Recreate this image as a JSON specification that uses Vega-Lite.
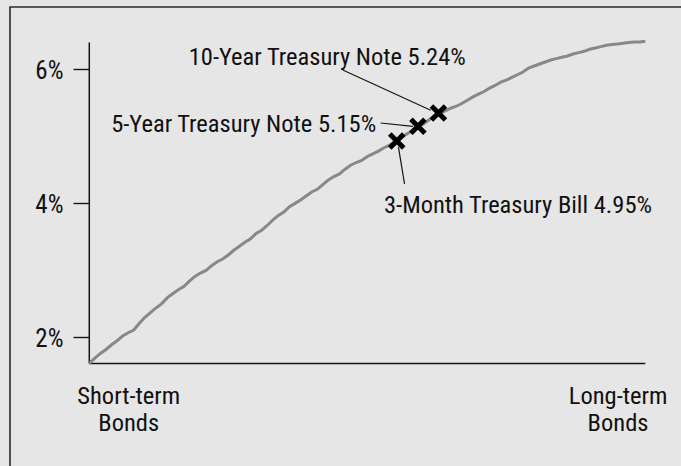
{
  "$schema": "https://vega.github.io/schema/vega-lite/v6.json",
  "width": 680,
  "height": 465,
  "autosize": "none",
  "padding": {"left": 10, "top": 7, "right": 0, "bottom": 0},
  "background": "#e6e6e6",
  "config": {
    "view": {"stroke": "#2a2a2a", "strokeWidth": 1.6, "fill": "#e6e6e6"},
    "font": "'Roboto Condensed', 'DejaVu Sans Condensed', Roboto, sans-serif",
    "text": {"font": "'Roboto Condensed', 'DejaVu Sans Condensed', Roboto, sans-serif", "fontSize": 24.5, "color": "#111111"}
  },
  "datasets": {
    "curve": [
      {"term": 0, "rate": 1.60}, {"term": 1, "rate": 1.68}, {"term": 2, "rate": 1.75}, {"term": 3, "rate": 1.81},
      {"term": 4, "rate": 1.88}, {"term": 5, "rate": 1.94}, {"term": 6, "rate": 2.01}, {"term": 7, "rate": 2.06},
      {"term": 8, "rate": 2.10}, {"term": 9, "rate": 2.20}, {"term": 10, "rate": 2.29}, {"term": 11, "rate": 2.36},
      {"term": 12, "rate": 2.43}, {"term": 13, "rate": 2.49}, {"term": 14, "rate": 2.58}, {"term": 15, "rate": 2.64},
      {"term": 16, "rate": 2.70}, {"term": 17, "rate": 2.75}, {"term": 18, "rate": 2.83}, {"term": 19, "rate": 2.90},
      {"term": 20, "rate": 2.95}, {"term": 21, "rate": 2.99}, {"term": 22, "rate": 3.06}, {"term": 23, "rate": 3.12},
      {"term": 24, "rate": 3.16}, {"term": 25, "rate": 3.22}, {"term": 26, "rate": 3.29}, {"term": 27, "rate": 3.35},
      {"term": 28, "rate": 3.41}, {"term": 29, "rate": 3.46}, {"term": 30, "rate": 3.54}, {"term": 31, "rate": 3.59},
      {"term": 32, "rate": 3.66}, {"term": 33, "rate": 3.74}, {"term": 34, "rate": 3.81}, {"term": 35, "rate": 3.86},
      {"term": 36, "rate": 3.94}, {"term": 37, "rate": 3.99}, {"term": 38, "rate": 4.04}, {"term": 39, "rate": 4.10},
      {"term": 40, "rate": 4.16}, {"term": 41, "rate": 4.20}, {"term": 42, "rate": 4.27}, {"term": 43, "rate": 4.34},
      {"term": 44, "rate": 4.39}, {"term": 45, "rate": 4.43}, {"term": 46, "rate": 4.50}, {"term": 47, "rate": 4.56},
      {"term": 48, "rate": 4.60}, {"term": 49, "rate": 4.63}, {"term": 50, "rate": 4.69}, {"term": 51, "rate": 4.73},
      {"term": 52, "rate": 4.77}, {"term": 53, "rate": 4.82}, {"term": 54, "rate": 4.86}, {"term": 55, "rate": 4.91},
      {"term": 56, "rate": 4.96}, {"term": 57, "rate": 5.02}, {"term": 58, "rate": 5.07}, {"term": 59, "rate": 5.12},
      {"term": 60, "rate": 5.17}, {"term": 61, "rate": 5.23}, {"term": 62, "rate": 5.29}, {"term": 63, "rate": 5.33},
      {"term": 64, "rate": 5.37}, {"term": 65, "rate": 5.41}, {"term": 66, "rate": 5.44}, {"term": 67, "rate": 5.48},
      {"term": 68, "rate": 5.53}, {"term": 69, "rate": 5.58}, {"term": 70, "rate": 5.62}, {"term": 71, "rate": 5.66},
      {"term": 72, "rate": 5.71}, {"term": 73, "rate": 5.75}, {"term": 74, "rate": 5.80}, {"term": 75, "rate": 5.83},
      {"term": 76, "rate": 5.87}, {"term": 77, "rate": 5.91}, {"term": 78, "rate": 5.95}, {"term": 79, "rate": 6.01},
      {"term": 80, "rate": 6.04}, {"term": 81, "rate": 6.07}, {"term": 82, "rate": 6.10}, {"term": 83, "rate": 6.13},
      {"term": 84, "rate": 6.15}, {"term": 85, "rate": 6.17}, {"term": 86, "rate": 6.19}, {"term": 87, "rate": 6.22},
      {"term": 88, "rate": 6.24}, {"term": 89, "rate": 6.26}, {"term": 90, "rate": 6.29}, {"term": 91, "rate": 6.31},
      {"term": 92, "rate": 6.33}, {"term": 93, "rate": 6.35}, {"term": 94, "rate": 6.36}, {"term": 95, "rate": 6.37},
      {"term": 96, "rate": 6.38}, {"term": 97, "rate": 6.39}, {"term": 98, "rate": 6.40}, {"term": 99, "rate": 6.40},
      {"term": 100, "rate": 6.41}
    ],
    "securities": [
      {"name": "3M", "term": 55.3, "rate": 4.92, "lx": 55.6, "ly": 4.83, "lx2": 56.7, "ly2": 4.28, "tx": 53.0, "ty": 3.84, "label": "3-Month Treasury Bill 4.95%"},
      {"name": "5Y", "term": 59.1, "rate": 5.14, "lx": 52.4, "ly": 5.19, "lx2": 58.2, "ly2": 5.14, "tx": 51.6, "ty": 5.05, "label": "5-Year Treasury Note 5.15%"},
      {"name": "10Y", "term": 62.8, "rate": 5.34, "lx": 45.6, "ly": 5.98, "lx2": 61.4, "ly2": 5.38, "tx": 42.8, "ty": 6.06, "label": "10-Year Treasury Note 5.24%"}
    ],
    "axes": [
      {"x": 0, "y": 1.6, "x2": 0, "y2": 6.39},
      {"x": 0, "y": 1.6, "x2": 100, "y2": 1.6}
    ],
    "ends": [
      {"term": 7.1, "rate": 0.99, "label": "Short-term\nBonds"},
      {"term": 95.1, "rate": 0.99, "label": "Long-term\nBonds"}
    ]
  },
  "layer": [
    {
      "data": {"name": "axes"},
      "mark": {"type": "rule", "color": "#151515", "strokeWidth": 1.5},
      "encoding": {
        "x": {"field": "x", "type": "quantitative", "scale": {"domain": [-14.26, 108.04], "nice": false, "zero": false}, "axis": null},
        "y": {"field": "y", "type": "quantitative", "scale": {"domain": [-0.019, 6.921], "nice": false, "zero": false},
          "axis": {"values": [2, 4, 6], "offset": -79, "title": null, "grid": false, "domain": false,
            "labelExpr": "datum.value + '%'", "labelFont": "'Roboto Condensed', 'DejaVu Sans Condensed', Roboto, sans-serif", "labelFontSize": 25,
            "labelColor": "#111111", "labelPadding": 10, "labelOffset": 2, "tickSize": 16, "tickColor": "#151515", "tickWidth": 1.4}},
        "x2": {"field": "x2"},
        "y2": {"field": "y2"}
      }
    },
    {
      "data": {"name": "curve"},
      "mark": {"type": "line", "color": "#888888", "strokeWidth": 3},
      "encoding": {
        "x": {"field": "term", "type": "quantitative"},
        "y": {"field": "rate", "type": "quantitative"}
      }
    },
    {
      "data": {"name": "securities"},
      "mark": {"type": "rule", "color": "#151515", "strokeWidth": 1.2},
      "encoding": {
        "x": {"field": "lx", "type": "quantitative"},
        "y": {"field": "ly", "type": "quantitative"},
        "x2": {"field": "lx2"},
        "y2": {"field": "ly2"}
      }
    },
    {
      "data": {"name": "securities"},
      "mark": {"type": "point", "shape": "M-1,-1L1,1M-1,1L1,-1", "filled": false, "color": "#000000", "strokeWidth": 5, "size": 196, "opacity": 1},
      "encoding": {
        "x": {"field": "term", "type": "quantitative"},
        "y": {"field": "rate", "type": "quantitative"}
      }
    },
    {
      "data": {"name": "securities"},
      "transform": [{"filter": "datum.name === '3M'"}],
      "mark": {"type": "text", "align": "left", "baseline": "alphabetic"},
      "encoding": {
        "x": {"field": "tx", "type": "quantitative"},
        "y": {"field": "ty", "type": "quantitative"},
        "text": {"field": "label"}
      }
    },
    {
      "data": {"name": "securities"},
      "transform": [{"filter": "datum.name === '5Y'"}],
      "mark": {"type": "text", "align": "right", "baseline": "alphabetic"},
      "encoding": {
        "x": {"field": "tx", "type": "quantitative"},
        "y": {"field": "ty", "type": "quantitative"},
        "text": {"field": "label"}
      }
    },
    {
      "data": {"name": "securities"},
      "transform": [{"filter": "datum.name === '10Y'"}],
      "mark": {"type": "text", "align": "center", "baseline": "alphabetic"},
      "encoding": {
        "x": {"field": "tx", "type": "quantitative"},
        "y": {"field": "ty", "type": "quantitative"},
        "text": {"field": "label"}
      }
    },
    {
      "data": {"name": "ends"},
      "mark": {"type": "text", "align": "center", "baseline": "alphabetic", "lineBreak": "\n", "lineHeight": 26.4},
      "encoding": {
        "x": {"field": "term", "type": "quantitative"},
        "y": {"field": "rate", "type": "quantitative"},
        "text": {"field": "label"}
      }
    }
  ]
}
